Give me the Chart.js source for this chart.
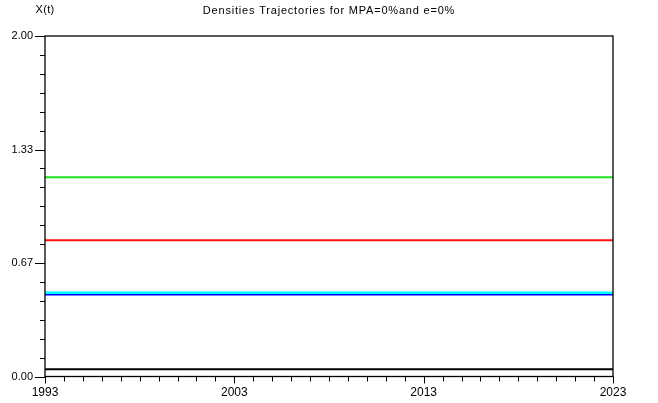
<!DOCTYPE html>
<html>
<head>
<meta charset="utf-8">
<script src="https://cdn.jsdelivr.net/npm/chart.js@4/dist/chart.umd.min.js"></script>
<style>
  html, body { margin: 0; padding: 0; background: #fff; }
  #wrap { width: 658px; height: 403px; position: relative; }
</style>
</head>
<body>
<div id="wrap"><canvas id="chartDensities"></canvas></div>
<script>
// years on the x axis
var years = [1993, 1994, 1995, 1996, 1997, 1998, 1999, 2000, 2001, 2002,
             2003, 2004, 2005, 2006, 2007, 2008, 2009, 2010, 2011, 2012,
             2013, 2014, 2015, 2016, 2017, 2018, 2019, 2020, 2021, 2022, 2023];

// density trajectories (flat: MPA=0%, e=0%)
var greenSeries = [1.17, 1.17, 1.17, 1.17, 1.17, 1.17, 1.17, 1.17, 1.17, 1.17,
                   1.17, 1.17, 1.17, 1.17, 1.17, 1.17, 1.17, 1.17, 1.17, 1.17,
                   1.17, 1.17, 1.17, 1.17, 1.17, 1.17, 1.17, 1.17, 1.17, 1.17, 1.17];
var redSeries = [0.80, 0.80, 0.80, 0.80, 0.80, 0.80, 0.80, 0.80, 0.80, 0.80,
                 0.80, 0.80, 0.80, 0.80, 0.80, 0.80, 0.80, 0.80, 0.80, 0.80,
                 0.80, 0.80, 0.80, 0.80, 0.80, 0.80, 0.80, 0.80, 0.80, 0.80, 0.80];
var cyanSeries = [0.492, 0.492, 0.492, 0.492, 0.492, 0.492, 0.492, 0.492, 0.492, 0.492,
                  0.492, 0.492, 0.492, 0.492, 0.492, 0.492, 0.492, 0.492, 0.492, 0.492,
                  0.492, 0.492, 0.492, 0.492, 0.492, 0.492, 0.492, 0.492, 0.492, 0.492, 0.492];
var blueSeries = [0.481, 0.481, 0.481, 0.481, 0.481, 0.481, 0.481, 0.481, 0.481, 0.481,
                  0.481, 0.481, 0.481, 0.481, 0.481, 0.481, 0.481, 0.481, 0.481, 0.481,
                  0.481, 0.481, 0.481, 0.481, 0.481, 0.481, 0.481, 0.481, 0.481, 0.481, 0.481];
var blackSeries = [0.042, 0.042, 0.042, 0.042, 0.042, 0.042, 0.042, 0.042, 0.042, 0.042,
                   0.042, 0.042, 0.042, 0.042, 0.042, 0.042, 0.042, 0.042, 0.042, 0.042,
                   0.042, 0.042, 0.042, 0.042, 0.042, 0.042, 0.042, 0.042, 0.042, 0.042, 0.042];

// tick labels
var xTickYears = [1993, 2003, 2013, 2023];
var yTickValues = [0, 2 / 3, 4 / 3, 2];
var yTickLabels = ['0.00', '0.67', '1.33', '2.00'];
var yMinorPerMajor = 6;

var titleText = 'Densities Trajectories for MPA=0%and e=0%';
var yAxisText = 'X(t)';

toPoints = function(values) {
  return years.map(function(yr, i) { return {x: yr, y: values[i]}; });
}

makeDataset = function(values, color, width) {
  return {
    data: toPoints(values),
    borderColor: color,
    borderWidth: width,
    pointRadius: 0,
    fill: false,
    tension: 0
  };
}

// frame, tick marks and the two header texts
var framePlugin = {
  id: 'frame',
  afterDraw: function(chart) {
    var ctx = chart.ctx;
    var area = chart.chartArea;
    var xs = chart.scales.x;
    var ys = chart.scales.y;
    ctx.save();
    ctx.strokeStyle = '#000';
    ctx.lineWidth = 1.3;
    ctx.strokeRect(area.left, area.top, area.right - area.left, area.bottom - area.top);

    ctx.lineWidth = 1;
    ctx.beginPath();
    for (var yr = years[0]; yr <= years[years.length - 1]; yr++) {
      var px = Math.round(xs.getPixelForValue(yr)) + 0.5;
      var len = xTickYears.indexOf(yr) >= 0 ? 7 : 5;
      ctx.moveTo(px, area.bottom);
      ctx.lineTo(px, area.bottom + len);
    }
    for (var k = 0; k < yTickValues.length - 1; k++) {
      var step = (yTickValues[k + 1] - yTickValues[k]) / yMinorPerMajor;
      for (var j = 0; j <= yMinorPerMajor; j++) {
        var py = Math.round(ys.getPixelForValue(yTickValues[k] + j * step)) + 0.5;
        var l = (j == 0 || j == yMinorPerMajor) ? 10 : 5;
        ctx.moveTo(area.left, py);
        ctx.lineTo(area.left - l, py);
      }
    }
    ctx.stroke();

    ctx.fillStyle = '#000';
    ctx.font = '11px "Liberation Sans", Arial, sans-serif';
    ctx.textAlign = 'center';
    ctx.textBaseline = 'middle';
    ctx.letterSpacing = '0.8px';
    ctx.fillText(titleText, chart.width / 2, 10.5);
    ctx.letterSpacing = '0.3px';
    ctx.fillText(yAxisText, 45, 9.5);
    ctx.restore();
  }
};

var config = {
  type: 'line',
  data: {
    datasets: [
      makeDataset(greenSeries, '#1fe01f', 2),
      makeDataset(redSeries, '#ff1010', 2),
      makeDataset(cyanSeries, '#00ffff', 2.5),
      makeDataset(blueSeries, '#0000ff', 1.6),
      makeDataset(blackSeries, '#000000', 2)
    ]
  },
  options: {
    responsive: false,
    animation: false,
    layout: { padding: { top: 36, right: 45, left: 0, bottom: 0 } },
    plugins: { legend: { display: false }, title: { display: false }, tooltip: { enabled: false } },
    scales: {
      x: {
        type: 'linear',
        min: 1993,
        max: 2023,
        afterBuildTicks: function(scale) {
          scale.ticks = xTickYears.map(function(v) { return {value: v}; });
        },
        afterFit: function(scale) { scale.height = 26.5; },
        grid: { display: false, drawTicks: false },
        border: { display: false },
        ticks: {
          color: '#000',
          padding: 9,
          maxRotation: 0,
          autoSkip: false,
          font: { family: '"Liberation Sans", Arial, sans-serif', size: 12 },
          callback: function(v) { return String(v); }
        }
      },
      y: {
        min: 0,
        max: 2,
        afterBuildTicks: function(scale) {
          scale.ticks = yTickValues.map(function(v) { return {value: v}; });
        },
        afterFit: function(scale) { scale.width = 45; },
        grid: { display: false, drawTicks: false },
        border: { display: false },
        ticks: {
          color: '#000',
          padding: 12,
          autoSkip: false,
          font: { family: '"Liberation Sans", Arial, sans-serif', size: 11 },
          callback: function(v, i) { return yTickLabels[i]; }
        }
      }
    }
  },
  plugins: [framePlugin]
};

var canvas = document.getElementById('chartDensities');
canvas.width = 658;
canvas.height = 403;
window.chartDensities = new Chart(canvas.getContext('2d'), config);
</script>
</body>
</html>
